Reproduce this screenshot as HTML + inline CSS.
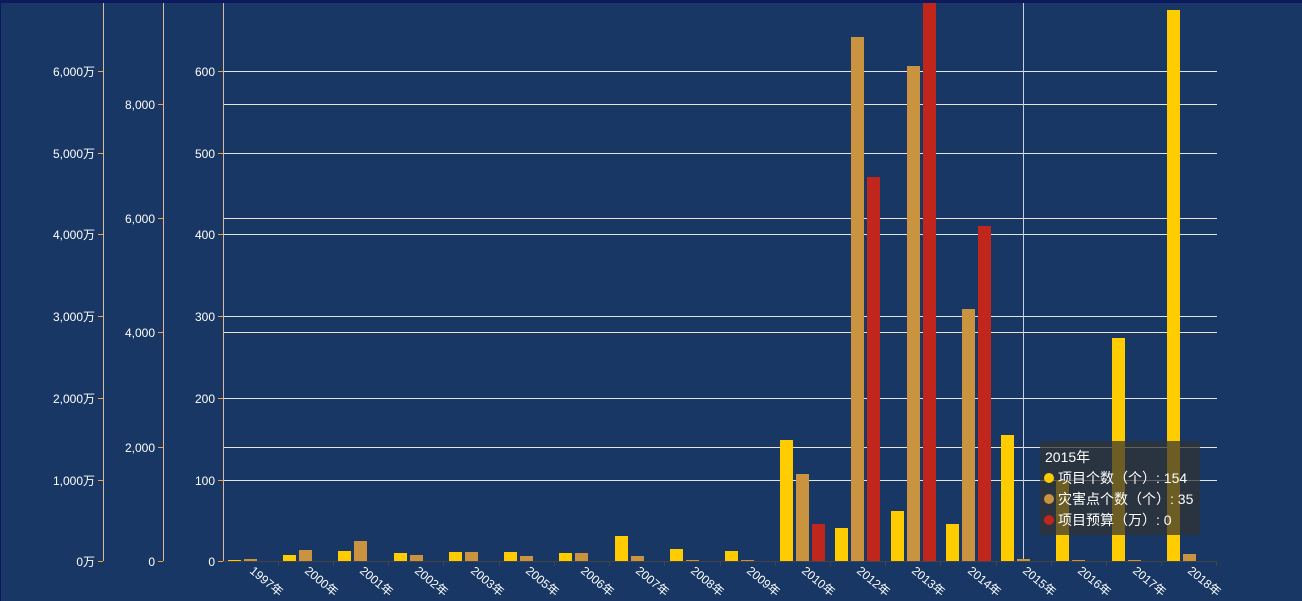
<!DOCTYPE html>
<html><head><meta charset="utf-8"><style>
html,body{margin:0;padding:0;background:#183764;}
svg{display:block;font-family:"Liberation Sans","Noto Sans CJK SC",sans-serif;}
</style></head><body>
<svg width="1302" height="601" viewBox="0 0 1302 601">
<rect width="1302" height="601" fill="#183764"/>
<rect x="0" y="0" width="1302" height="3" fill="#0e1a5e"/>
<rect x="0" y="0" width="1" height="601" fill="#0e1a5e"/>
<g stroke="#e0e6f0" stroke-width="1">
<line x1="223" x2="1217" y1="71.5" y2="71.5"/><line x1="223" x2="1217" y1="153.5" y2="153.5"/>
<line x1="223" x2="1217" y1="234.5" y2="234.5"/><line x1="223" x2="1217" y1="316.5" y2="316.5"/>
<line x1="223" x2="1217" y1="398.5" y2="398.5"/><line x1="223" x2="1217" y1="480.5" y2="480.5"/>
</g>
<g stroke="#ece3cf" stroke-width="1">
<line x1="223" x2="1217" y1="104.5" y2="104.5"/><line x1="223" x2="1217" y1="218.5" y2="218.5"/>
<line x1="223" x2="1217" y1="332.5" y2="332.5"/><line x1="223" x2="1217" y1="447.5" y2="447.5"/>
</g>
<line x1="1023.5" x2="1023.5" y1="3" y2="561" stroke="#c8d0e0"/>
<g stroke="#d9b8a0" stroke-width="1">
<line x1="103.5" x2="103.5" y1="3" y2="561"/><line x1="163.5" x2="163.5" y1="3" y2="561"/><line x1="223.5" x2="223.5" y1="3" y2="561"/>
</g>
<g stroke="#f0a040">
<line x1="98" x2="103" y1="71.5" y2="71.5"/><line x1="98" x2="103" y1="153.5" y2="153.5"/><line x1="98" x2="103" y1="234.5" y2="234.5"/><line x1="98" x2="103" y1="316.5" y2="316.5"/><line x1="98" x2="103" y1="398.5" y2="398.5"/><line x1="98" x2="103" y1="480.5" y2="480.5"/><line x1="98" x2="103" y1="561.5" y2="561.5"/>
<line x1="158" x2="163" y1="104.5" y2="104.5"/><line x1="158" x2="163" y1="218.5" y2="218.5"/><line x1="158" x2="163" y1="332.5" y2="332.5"/><line x1="158" x2="163" y1="447.5" y2="447.5"/><line x1="158" x2="163" y1="561.5" y2="561.5"/>
<line x1="218" x2="223" y1="71.5" y2="71.5"/><line x1="218" x2="223" y1="153.5" y2="153.5"/><line x1="218" x2="223" y1="234.5" y2="234.5"/><line x1="218" x2="223" y1="316.5" y2="316.5"/><line x1="218" x2="223" y1="398.5" y2="398.5"/><line x1="218" x2="223" y1="480.5" y2="480.5"/><line x1="218" x2="223" y1="561.5" y2="561.5"/>
</g>
<g fill="#fff" font-size="12" text-anchor="end">
<text x="95" y="76">6,000万</text><text x="95" y="158">5,000万</text><text x="95" y="239">4,000万</text><text x="95" y="321">3,000万</text><text x="95" y="403">2,000万</text><text x="95" y="485">1,000万</text><text x="95" y="566">0万</text>
<text x="155" y="109">8,000</text><text x="155" y="223">6,000</text><text x="155" y="337">4,000</text><text x="155" y="452">2,000</text><text x="155" y="566">0</text>
<text x="215" y="76">600</text><text x="215" y="158">500</text><text x="215" y="239">400</text><text x="215" y="321">300</text><text x="215" y="403">200</text><text x="215" y="485">100</text><text x="215" y="566">0</text>
</g>
<g fill="#ffcc00">
<rect x="228" y="560" width="13" height="1"/>
<rect x="283" y="555" width="13" height="6"/>
<rect x="338" y="551" width="13" height="10"/>
<rect x="394" y="553" width="13" height="8"/>
<rect x="449" y="552" width="13" height="9"/>
<rect x="504" y="552" width="13" height="9"/>
<rect x="559" y="553" width="13" height="8"/>
<rect x="615" y="536" width="13" height="25"/>
<rect x="670" y="549" width="13" height="12"/>
<rect x="725" y="551" width="13" height="10"/>
<rect x="780" y="440" width="13" height="121"/>
<rect x="835" y="528" width="13" height="33"/>
<rect x="891" y="511" width="13" height="50"/>
<rect x="946" y="524" width="13" height="37"/>
<rect x="1001" y="435" width="13" height="126"/>
<rect x="1056" y="480" width="13" height="81"/>
<rect x="1112" y="338" width="13" height="223"/>
<rect x="1167" y="10" width="13" height="551"/>
</g>
<g fill="#c9933f">
<rect x="244" y="559" width="13" height="2"/>
<rect x="299" y="550" width="13" height="11"/>
<rect x="354" y="541" width="13" height="20"/>
<rect x="410" y="555" width="13" height="6"/>
<rect x="465" y="552" width="13" height="9"/>
<rect x="520" y="556" width="13" height="5"/>
<rect x="575" y="553" width="13" height="8"/>
<rect x="631" y="556" width="13" height="5"/>
<rect x="686" y="560" width="13" height="1"/>
<rect x="741" y="560" width="13" height="1"/>
<rect x="796" y="474" width="13" height="87"/>
<rect x="851" y="37" width="13" height="524"/>
<rect x="907" y="66" width="13" height="495"/>
<rect x="962" y="309" width="13" height="252"/>
<rect x="1017" y="559" width="13" height="2"/>
<rect x="1072" y="560" width="13" height="1"/>
<rect x="1128" y="560" width="13" height="1"/>
<rect x="1183" y="554" width="13" height="7"/>
</g>
<g fill="#c0261c">
<rect x="812" y="524" width="13" height="37"/>
<rect x="867" y="177" width="13" height="384"/>
<rect x="923" y="3" width="13" height="558"/>
<rect x="978" y="226" width="13" height="335"/>
</g>
<line x1="223" x2="1217" y1="561.5" y2="561.5" stroke="#444"/>
<g stroke="#444">
<line x1="278.5" x2="278.5" y1="561" y2="566"/><line x1="333.5" x2="333.5" y1="561" y2="566"/><line x1="388.5" x2="388.5" y1="561" y2="566"/><line x1="443.5" x2="443.5" y1="561" y2="566"/><line x1="499.5" x2="499.5" y1="561" y2="566"/><line x1="554.5" x2="554.5" y1="561" y2="566"/><line x1="609.5" x2="609.5" y1="561" y2="566"/><line x1="664.5" x2="664.5" y1="561" y2="566"/><line x1="720.5" x2="720.5" y1="561" y2="566"/><line x1="775.5" x2="775.5" y1="561" y2="566"/><line x1="830.5" x2="830.5" y1="561" y2="566"/><line x1="885.5" x2="885.5" y1="561" y2="566"/><line x1="940.5" x2="940.5" y1="561" y2="566"/><line x1="996.5" x2="996.5" y1="561" y2="566"/><line x1="1051.5" x2="1051.5" y1="561" y2="566"/><line x1="1106.5" x2="1106.5" y1="561" y2="566"/><line x1="1161.5" x2="1161.5" y1="561" y2="566"/><line x1="1216.5" x2="1216.5" y1="561" y2="566"/>
</g>
<g fill="#fff" font-size="12">
<text transform="translate(249,572) rotate(40)">1997年</text>
<text transform="translate(304,572) rotate(40)">2000年</text>
<text transform="translate(359,572) rotate(40)">2001年</text>
<text transform="translate(414,572) rotate(40)">2002年</text>
<text transform="translate(470,572) rotate(40)">2003年</text>
<text transform="translate(525,572) rotate(40)">2005年</text>
<text transform="translate(580,572) rotate(40)">2006年</text>
<text transform="translate(635,572) rotate(40)">2007年</text>
<text transform="translate(690,572) rotate(40)">2008年</text>
<text transform="translate(746,572) rotate(40)">2009年</text>
<text transform="translate(801,572) rotate(40)">2010年</text>
<text transform="translate(856,572) rotate(40)">2012年</text>
<text transform="translate(911,572) rotate(40)">2013年</text>
<text transform="translate(967,572) rotate(40)">2014年</text>
<text transform="translate(1022,572) rotate(40)">2015年</text>
<text transform="translate(1077,572) rotate(40)">2016年</text>
<text transform="translate(1132,572) rotate(40)">2017年</text>
<text transform="translate(1187,572) rotate(40)">2018年</text>
</g>
<rect x="1040" y="441" width="160" height="94" rx="4" fill="rgba(50,50,50,0.72)"/>
<g font-size="14" fill="#fff">
<text x="1045" y="462">2015年</text>
<circle cx="1049" cy="478" r="5" fill="#ffcc00"/><text x="1058" y="483">项目个数（个）: 154</text>
<circle cx="1049" cy="499" r="5" fill="#c9933f"/><text x="1058" y="504">灾害点个数（个）: 35</text>
<circle cx="1049" cy="520" r="5" fill="#c0261c"/><text x="1058" y="525">项目预算（万）: 0</text>
</g>
</svg>
</body></html>
